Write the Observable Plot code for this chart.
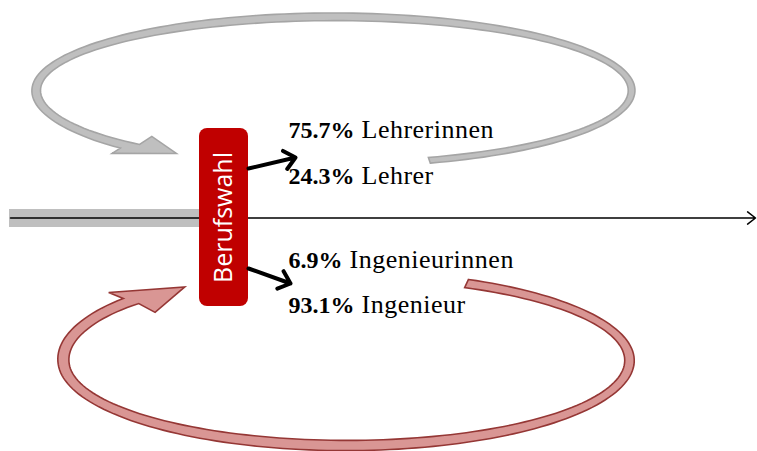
<!DOCTYPE html>
<html>
<head>
<meta charset="utf-8">
<script src="https://cdn.jsdelivr.net/npm/d3@7"></script>
<script src="https://cdn.jsdelivr.net/npm/@observablehq/plot@0.6"></script>
<style>
  body { margin: 0; background: #fff; }
  #chart svg { display: block; background: #fff; }
</style>
</head>
<body>
<div id="chart"></div>
<script>
// ---- data ----
const categories = ["Lehrerinnen", "Lehrer", "Ingenieurinnen", "Ingenieur"];
const shares = [75.7, 24.3, 6.9, 93.1];
const stageLabel = "Berufswahl";

// ---- layout (diagram geometry in the 757x451 pixel frame) ----
const W = 757, H = 451;
const labelX = 288;
const labelBaseline = [137, 183, 267, 312];
const labelFontSize = 24;
const nameFontSize = 26;
const stage = {x1: 199, x2: 248, y1: 128, y2: 306, cx: 223.5, cy: 217};
const bar = {x1: 9, x2: 199, y1: 209, y2: 227};
const timeline = {x1: 10, x2: 755, y: 217.5};
const branches = [
  {x1: 248, y1: 168, x2: 295, y2: 157},
  {x1: 248, y1: 268, x2: 290, y2: 283}
];
const loops = [
  { cx: 333.4, cy: 90, rx: 297.7, ry: 73.7, t0: 71.3, hw0: 3,
    outerEnd: {t: 134.5 - 360, d: 7}, innerEnd: {t: 131.1 - 360, d: -2.1},
    outerBarb: {t: 135.1 - 360, d: 15.4}, tip: {t: 121.9 - 360, d: 0.45},
    innerBarb: {t: 129.9 - 360, d: -13.8},
    fill: "#bfbfbf", stroke: "#a5a5a5" },
  { cx: 346, cy: 360, rx: 283, ry: 85, t0: -64.9, hw0: 4.5,
    outerEnd: {t: 220.5, d: 10.5}, innerEnd: {t: 222.6, d: -0.8},
    outerBarb: {t: 219, d: 23}, tip: {t: 235.7, d: 4},
    innerBarb: {t: 224.2, d: -16},
    fill: "#d99694", stroke: "#953735" }
];

function loopPolygon(L) {
  const rad = Math.PI / 180;
  const P = (t, d) => [L.cx + (L.rx + d) * Math.cos(t * rad), L.cy + (L.ry + d) * Math.sin(t * rad)];
  const dc1 = (L.outerEnd.d + L.innerEnd.d) / 2;
  const hw1 = (L.outerEnd.d - L.innerEnd.d) / 2;
  const ramp = s => { const u = Math.max(0, Math.min(1, (s - 0.84) / 0.16)); return u * u * (3 - 2 * u); };
  const N = 160;
  const edge = (end, sign) => d3.range(N + 1).map(i => {
    const s = i / N;
    const t = L.t0 + (end.t - L.t0) * s;
    const d = dc1 * ramp(s) + sign * (L.hw0 + (hw1 - L.hw0) * s);
    return P(t, d);
  });
  const outer = edge(L.outerEnd, 1);
  const inner = edge(L.innerEnd, -1).reverse();
  return [...outer, P(L.outerBarb.t, L.outerBarb.d), P(L.tip.t, L.tip.d),
          P(L.innerBarb.t, L.innerBarb.d), ...inner];
}

const fmt = d3.format(".1f");
const rows = categories.map((c, i) => ({
  category: c, share: shares[i], x: labelX,
  y: labelBaseline[i] - 0.32 * labelFontSize,
  label: `${fmt(shares[i])}% ${c}`
}));

const marks = [];
loops.forEach(L => {
  marks.push(Plot.line(loopPolygon(L), {
    x: d => d[0], y: d => d[1], curve: "linear-closed",
    fill: L.fill, stroke: L.stroke, strokeWidth: 1.6, strokeLinejoin: "miter", strokeMiterlimit: 4
  }));
});
marks.push(
  Plot.rect([bar], {x1: "x1", x2: "x2", y1: "y1", y2: "y2", fill: "#bfbfbf"}),
  Plot.arrow([timeline], {x1: "x1", x2: "x2", y1: "y", y2: "y", stroke: "black", strokeWidth: 1.5, headLength: 10, headAngle: 76}),
  Plot.rect([stage], {x1: "x1", x2: "x2", y1: "y1", y2: "y2", fill: "#c00000", rx: 8, ry: 8}),
  Plot.text([stage], {x: "cx", y: "cy", text: () => stageLabel, rotate: -90, fill: "white",
    fontSize: 25, fontFamily: "Open Sans", textAnchor: "middle", lineAnchor: "middle"}),
  Plot.arrow(branches, {x1: "x1", y1: "y1", x2: "x2", y2: "y2", stroke: "black", strokeWidth: 4,
    headLength: 5.3, headAngle: 82}),
  Plot.text(rows, {x: "x", y: "y", text: "label", textAnchor: "start",
    lineAnchor: "middle", fontSize: labelFontSize, fontFamily: "Liberation Serif", fill: "black"})
);

const plot = Plot.plot({
  width: W, height: H,
  marginTop: 0, marginRight: 0, marginBottom: 0, marginLeft: 0,
  x: {domain: [0, W], range: [0, W], axis: null},
  y: {domain: [0, H], range: [0, H], axis: null},
  style: {background: "#fff", overflow: "visible"},
  marks
});

// split each label into a bold share and a regular category name
plot.querySelectorAll("text").forEach(el => {
  const r = rows.find(r => r.label === el.textContent);
  if (!r) return;
  const sel = d3.select(el);
  sel.text(null);
  sel.append("tspan").attr("font-weight", "bold").style("font-weight", "bold").text(`${fmt(r.share)}%`);
  sel.append("tspan").attr("font-size", nameFontSize).style("font-size", `${nameFontSize}px`)
    .attr("letter-spacing", 0.5).text(` ${r.category}`);
});

document.getElementById("chart").append(plot);
</script>
</body>
</html>
